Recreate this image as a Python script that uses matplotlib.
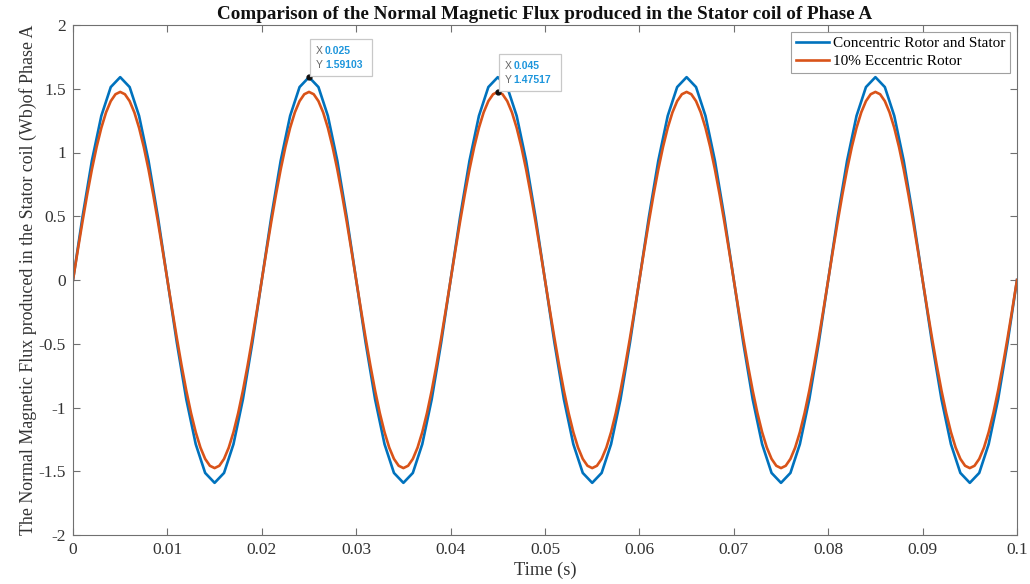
import matplotlib
matplotlib.use("Agg")
import matplotlib.pyplot as plt
from matplotlib.patches import Rectangle
from matplotlib.transforms import IdentityTransform

plt.rcParams['font.family'] = ['Liberation Serif', 'DejaVu Serif']

# Concentric rotor: time samples (s), 0.001 s step
time_coarse = [round(i * 0.001, 4) for i in range(101)]
concentric = [
    0.0, 0.49165, 0.93519, 1.28718, 1.51316, 1.59103, 1.51316, 1.28718, 0.93519, 0.49165,
    0.0, -0.49165, -0.93519, -1.28718, -1.51316, -1.59103, -1.51316, -1.28718, -0.93519, -0.49165,
    0.0, 0.49165, 0.93519, 1.28718, 1.51316, 1.59103, 1.51316, 1.28718, 0.93519, 0.49165,
    0.0, -0.49165, -0.93519, -1.28718, -1.51316, -1.59103, -1.51316, -1.28718, -0.93519, -0.49165,
    0.0, 0.49165, 0.93519, 1.28718, 1.51316, 1.59103, 1.51316, 1.28718, 0.93519, 0.49165,
    0.0, -0.49165, -0.93519, -1.28718, -1.51316, -1.59103, -1.51316, -1.28718, -0.93519, -0.49165,
    0.0, 0.49165, 0.93519, 1.28718, 1.51316, 1.59103, 1.51316, 1.28718, 0.93519, 0.49165,
    0.0, -0.49165, -0.93519, -1.28718, -1.51316, -1.59103, -1.51316, -1.28718, -0.93519, -0.49165,
    0.0, 0.49165, 0.93519, 1.28718, 1.51316, 1.59103, 1.51316, 1.28718, 0.93519, 0.49165,
    0.0, -0.49165, -0.93519, -1.28718, -1.51316, -1.59103, -1.51316, -1.28718, -0.93519, -0.49165,
    0.0,
]

# 10% eccentric rotor: time samples (s), 0.0005 s step
time_fine = [round(i * 0.0005, 4) for i in range(201)]
eccentric = [
    0.0, 0.23077, 0.45585, 0.66971, 0.86708, 1.04310, 1.19344, 1.31439, 1.40297, 1.45701,
    1.47517, 1.45701, 1.40297, 1.31439, 1.19344, 1.04310, 0.86708, 0.66971, 0.45585, 0.23077,
    0.0, -0.23077, -0.45585, -0.66971, -0.86708, -1.04310, -1.19344, -1.31439, -1.40297, -1.45701,
    -1.47517, -1.45701, -1.40297, -1.31439, -1.19344, -1.04310, -0.86708, -0.66971, -0.45585, -0.23077,
    0.0, 0.23077, 0.45585, 0.66971, 0.86708, 1.04310, 1.19344, 1.31439, 1.40297, 1.45701,
    1.47517, 1.45701, 1.40297, 1.31439, 1.19344, 1.04310, 0.86708, 0.66971, 0.45585, 0.23077,
    0.0, -0.23077, -0.45585, -0.66971, -0.86708, -1.04310, -1.19344, -1.31439, -1.40297, -1.45701,
    -1.47517, -1.45701, -1.40297, -1.31439, -1.19344, -1.04310, -0.86708, -0.66971, -0.45585, -0.23077,
    0.0, 0.23077, 0.45585, 0.66971, 0.86708, 1.04310, 1.19344, 1.31439, 1.40297, 1.45701,
    1.47517, 1.45701, 1.40297, 1.31439, 1.19344, 1.04310, 0.86708, 0.66971, 0.45585, 0.23077,
    0.0, -0.23077, -0.45585, -0.66971, -0.86708, -1.04310, -1.19344, -1.31439, -1.40297, -1.45701,
    -1.47517, -1.45701, -1.40297, -1.31439, -1.19344, -1.04310, -0.86708, -0.66971, -0.45585, -0.23077,
    0.0, 0.23077, 0.45585, 0.66971, 0.86708, 1.04310, 1.19344, 1.31439, 1.40297, 1.45701,
    1.47517, 1.45701, 1.40297, 1.31439, 1.19344, 1.04310, 0.86708, 0.66971, 0.45585, 0.23077,
    0.0, -0.23077, -0.45585, -0.66971, -0.86708, -1.04310, -1.19344, -1.31439, -1.40297, -1.45701,
    -1.47517, -1.45701, -1.40297, -1.31439, -1.19344, -1.04310, -0.86708, -0.66971, -0.45585, -0.23077,
    0.0, 0.23077, 0.45585, 0.66971, 0.86708, 1.04310, 1.19344, 1.31439, 1.40297, 1.45701,
    1.47517, 1.45701, 1.40297, 1.31439, 1.19344, 1.04310, 0.86708, 0.66971, 0.45585, 0.23077,
    0.0, -0.23077, -0.45585, -0.66971, -0.86708, -1.04310, -1.19344, -1.31439, -1.40297, -1.45701,
    -1.47517, -1.45701, -1.40297, -1.31439, -1.19344, -1.04310, -0.86708, -0.66971, -0.45585, -0.23077,
    0.0,
]

series_labels = ["Concentric Rotor and Stator", "10% Eccentric Rotor"]
x_ticks = [0, 0.01, 0.02, 0.03, 0.04, 0.05, 0.06, 0.07, 0.08, 0.09, 0.1]
x_ticklabels = ["0", "0.01", "0.02", "0.03", "0.04", "0.05", "0.06", "0.07", "0.08", "0.09", "0.1"]
y_ticks = [-2, -1.5, -1, -0.5, 0, 0.5, 1, 1.5, 2]
y_ticklabels = ["-2", "-1.5", "-1", "-0.5", "0", "0.5", "1", "1.5", "2"]
datatip_x = [0.025, 0.045]
datatip_y = [1.59103, 1.47517]
datatip_xtext = ["0.025", "0.045"]
datatip_ytext = ["1.59103", "1.47517"]

fig = plt.figure(figsize=(10.30, 5.84), dpi=100)
ax = fig.add_axes([73/1030, 1 - 535/584, (1017-73)/1030, (535-25)/584])

ax.plot(time_coarse, concentric, color='#0072BD', lw=1.9, label=series_labels[0])
ax.plot(time_fine, eccentric, color='#D95319', lw=1.9, label=series_labels[1])

ax.set_xlim(0, 0.1)
ax.set_ylim(-2, 2)
ax.set_xticks(x_ticks)
ax.set_xticklabels(x_ticklabels)
ax.set_yticks(y_ticks)
ax.set_yticklabels(y_ticklabels)

axcol = '#707070'
for s in ax.spines.values():
    s.set_color(axcol)
    s.set_linewidth(0.8)
ax.tick_params(direction='in', length=5, width=0.8, color=axcol, labelcolor='#333333',
               labelsize=12.5, top=True, right=True, pad=5)

ax.set_title("Comparison of the Normal Magnetic Flux produced in the Stator coil of Phase A",
             fontsize=13.8, fontweight='bold', color='#111111', pad=4)
ax.set_xlabel("Time (s)", fontsize=13.3, color='#333333', labelpad=3)
ax.set_ylabel("The Normal Magnetic Flux produced in the Stator coil (Wb)of Phase A",
              fontsize=12.9, color='#333333', labelpad=1)

leg = ax.legend(loc='upper right', fontsize=11, frameon=True, fancybox=False,
                handlelength=2.2, borderpad=0.3, labelspacing=0.3, handletextpad=0.25,
                borderaxespad=0.45)
leg.get_frame().set_edgecolor('#888888')
leg.get_frame().set_linewidth(0.8)

# Data tips (MATLAB-style), laid out in display pixels next to the marked point
fig.canvas.draw()
for tx, ty, xs, ys in zip(datatip_x, datatip_y, datatip_xtext, datatip_ytext):
    ax.plot([tx], [ty], 'o', color='#111111', ms=3.5, zorder=6)
    px, py = ax.transData.transform((tx, ty))
    box = Rectangle((px + 1, py + 1), 62, 37, transform=IdentityTransform(),
                    fc='white', ec='#c8c8c8', lw=0.9, zorder=7, clip_on=False)
    fig.add_artist(box)
    for lbl, val, dy in (("X", xs, 26), ("Y", ys, 12)):
        fig.text(px + 7, py + dy, lbl, transform=IdentityTransform(), fontsize=7.5,
                 family='Liberation Sans', color='#666666', va='center', ha='left', zorder=8)
        fig.text(px + 16, py + dy, val, transform=IdentityTransform(), fontsize=7.5,
                 family='Liberation Sans', fontweight='bold', color='#1e96dc',
                 va='center', ha='left', zorder=8)

fig.savefig("out.png", dpi=100)
